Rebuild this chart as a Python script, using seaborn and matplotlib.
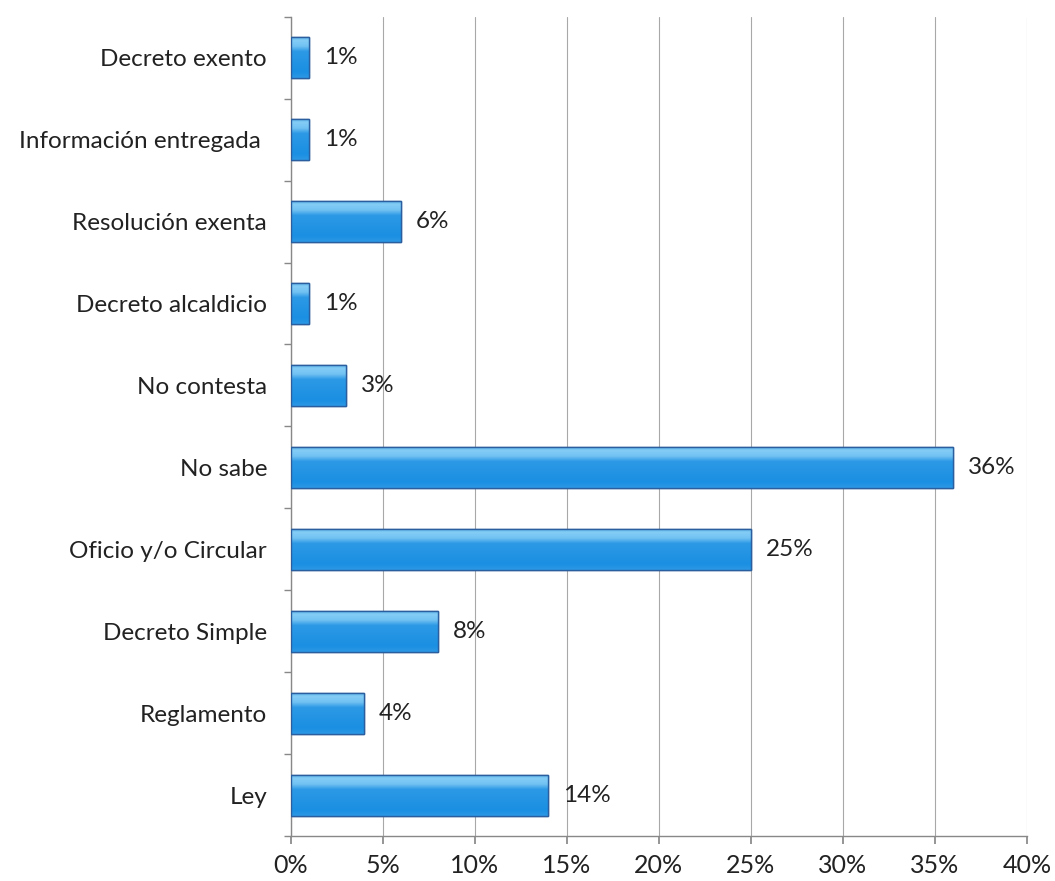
import numpy as np
import pandas as pd
import matplotlib
matplotlib.use("Agg")
import matplotlib.pyplot as plt
from matplotlib.ticker import FixedLocator, PercentFormatter
import seaborn as sns

categories = ["Decreto exento", "Información entregada ", "Resolución exenta",
              "Decreto alcaldicio", "No contesta", "No sabe", "Oficio y/o Circular",
              "Decreto Simple", "Reglamento", "Ley"]
values = [1, 1, 6, 1, 3, 36, 25, 8, 4, 14]
x_ticks = [0, 5, 10, 15, 20, 25, 30, 35, 40]

df = pd.DataFrame({"categoria": categories, "porcentaje": values})

sns.set_theme(style="white")
plt.rcParams["font.family"] = ["Lato", "DejaVu Sans"]

fig = plt.figure(figsize=(10.55, 8.81), dpi=100)
ax = fig.add_axes([0.2755, 0.051, 0.698, 0.930])

sns.barplot(data=df, x="porcentaje", y="categoria", orient="h", ax=ax,
            color="#1B8FE2", width=0.5, edgecolor="#2A5E9E", linewidth=1.0,
            zorder=3)

# glossy vertical shading inside each bar
grad = np.linspace(0, 1, 256)
shade = np.interp(grad, [0, 0.08, 0.22, 0.35, 0.85, 1.0],
                  [0.55, 0.9, 0.75, 0.15, 0.0, 0.15])
cmap_light = matplotlib.colors.LinearSegmentedColormap.from_list(
    "gloss", ["#1B8FE2", "#8FD3F8"])
for p in ax.patches:
    x0, y0 = p.get_x(), p.get_y()
    w, h = p.get_width(), p.get_height()
    im = ax.imshow(shade.reshape(-1, 1),
                   extent=(x0, x0 + w, y0 + h, y0), origin="upper",
                   cmap=cmap_light, vmin=0, vmax=1, aspect="auto",
                   zorder=3.5, interpolation="bilinear")
    im.set_clip_path(p)
    ax.add_patch(plt.Rectangle((x0, y0), w, h, fill=False,
                               edgecolor="#2A5E9E", linewidth=1.0, zorder=4))
    ax.text(x0 + w + 0.8, y0 + h / 2, f"{w:.0f}%", va="center", ha="left",
            fontsize=17.5, color="#222222", zorder=5)

ax.set_xlim(0, 40)
ax.set_ylim(len(categories) - 0.5, -0.5)
ax.xaxis.set_major_locator(FixedLocator(x_ticks))
ax.xaxis.set_major_formatter(PercentFormatter(decimals=0))
ax.set_xlabel("")
ax.set_ylabel("")

ax.grid(axis="x", color="#a8a8a8", linewidth=0.8, zorder=0)
ax.set_axisbelow(True)

for side in ["top", "right"]:
    ax.spines[side].set_visible(False)
for side in ["left", "bottom"]:
    ax.spines[side].set_color("#888888")
    ax.spines[side].set_linewidth(1.0)

ax.tick_params(axis="x", which="major", bottom=True, length=6, color="#888888",
               labelsize=18, pad=7, labelcolor="#222222")
ax.tick_params(axis="y", which="major", left=False, labelsize=17.5, pad=11,
               labelcolor="#222222")
ax.yaxis.set_minor_locator(FixedLocator(np.arange(-0.5, len(categories), 1.0)))
ax.tick_params(axis="y", which="minor", left=True, length=5, color="#888888")

fig.savefig("out.png", dpi=100, facecolor="white")
